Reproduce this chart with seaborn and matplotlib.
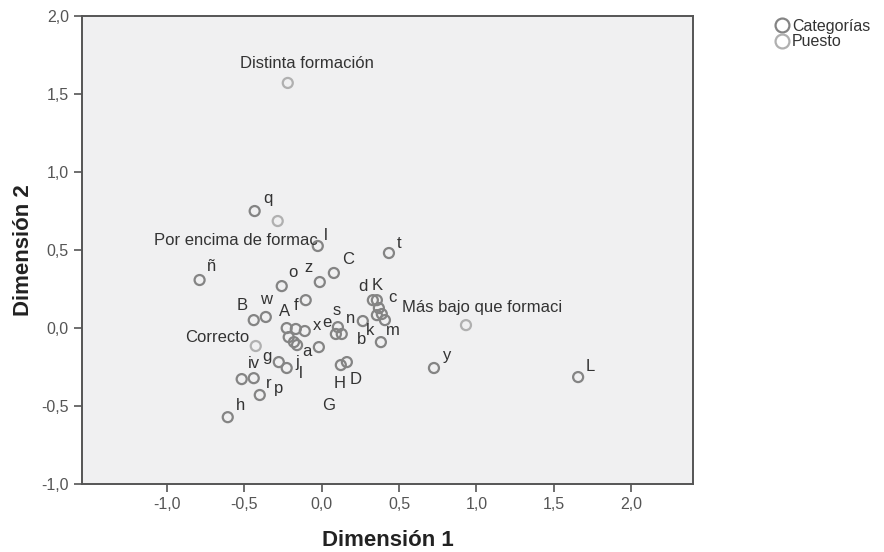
"""Plot of MCA category points (Dimensión 1 vs Dimensión 2)."""
import matplotlib
matplotlib.use("Agg")
import matplotlib.pyplot as plt
from matplotlib.lines import Line2D
from matplotlib.ticker import FuncFormatter, MultipleLocator
import pandas as pd
import seaborn as sns

# Categorías: dimension 1, dimension 2, label
cat_dim1 = [-0.434, -0.026, 0.434, -0.790, -0.259, -0.013, 0.078, -0.104,
            -0.440, -0.362, -0.227, -0.168, -0.110, -0.214, -0.180, -0.160,
            -0.019, 0.104, 0.091, 0.129, 0.265, 0.330, 0.356, 0.369,
            0.356, 0.388, 0.408, 0.382, -0.278, -0.227, -0.518, -0.440,
            -0.401, -0.608, 0.123, 0.162, 0.725, 1.657]
cat_dim2 = [0.750, 0.526, 0.481, 0.308, 0.269, 0.295, 0.353, 0.179,
            0.051, 0.071, 0.000, -0.006, -0.019, -0.058, -0.090, -0.109,
            -0.122, 0.006, -0.038, -0.038, 0.045, 0.179, 0.179, 0.128,
            0.083, 0.090, 0.051, -0.090, -0.218, -0.256, -0.327, -0.321,
            -0.429, -0.571, -0.237, -0.218, -0.256, -0.314]
cat_labels = ["q", "l", "t", "ñ", "o", "z", "C", "f",
              "B", "w", "A", "", "x", "", "", "j",
              "a", "s", "e", "G", "n", "d", "K", "c",
              "k", "", "m", "b", "g", "l", "iv", "r",
              "p", "h", "H", "D", "y", "L"]
# label offsets in pixels (right, up)
cat_dx = [13, 8, 10, 12, 11, -11, 14, -10,
          -12, 0, -2, 0, 12, 0, 0, 0,
          -12, -1, -9, -13, -12, -10, 0, 14,
          -7, 0, 8, -19, -12, 14, 12, 15,
          19, 13, -1, 9, 13, 12]
cat_dy = [13, 10, 10, 14, 14, 15, 13, -5,
          15, 17, 17, 0, 6, 0, 0, -17,
          -4, 17, 12, -71, 3, 14, 15, 11,
          -15, 0, -10, 3, 6, -5, 16, -5,
          7, 12, -18, -17, 13, 11]

# Puesto
pue_dim1 = [-0.220, -0.285, -0.427, 0.932]
pue_dim2 = [1.571, 0.686, -0.115, 0.019]
pue_labels = ["Distinta formación", "Por encima de formac", "Correcto",
              "Más bajo que formaci"]
pue_dx = [19, 40, -6, -64]
pue_dy = [19, -19, 9, 18]
pue_ha = ["center", "right", "right", "left"]

df = pd.concat([
    pd.DataFrame({"dim1": cat_dim1, "dim2": cat_dim2, "grupo": "Categorías"}),
    pd.DataFrame({"dim1": pue_dim1, "dim2": pue_dim2, "grupo": "Puesto"}),
], ignore_index=True)

colors = {"Categorías": "#848484", "Puesto": "#b0b0b0"}
text_color = "#333333"

sns.set_style("white")
plt.rcParams["font.family"] = ["Liberation Sans", "DejaVu Sans"]

fig = plt.figure(figsize=(8.84, 5.52), dpi=100)
ax = fig.add_axes([0.0928, 0.123, 0.6912, 0.848])
ax.set_facecolor("#f0f0f1")

for grupo, sub in df.groupby("grupo"):
    sns.scatterplot(data=sub, x="dim1", y="dim2", ax=ax, s=52,
                    legend=False, zorder=3)
    coll = ax.collections[-1]
    coll.set_facecolor("none")
    coll.set_edgecolor(colors[grupo])
    coll.set_linewidth(1.6)

for x, y, lab, dx, dy in zip(cat_dim1, cat_dim2, cat_labels, cat_dx, cat_dy):
    if lab:
        ax.annotate(lab, (x, y), xytext=(dx, dy), textcoords="offset pixels",
                    ha="center", va="center", fontsize=12, color=text_color)

for x, y, lab, dx, dy, ha in zip(pue_dim1, pue_dim2, pue_labels, pue_dx, pue_dy, pue_ha):
    ax.annotate(lab, (x, y), xytext=(dx, dy), textcoords="offset pixels",
                ha=ha, va="center", fontsize=12, color=text_color)

ax.set_xlim(-1.55, 2.40)
ax.set_ylim(-1.0, 2.0)
ax.yaxis.set_major_locator(MultipleLocator(0.5))
ax.set_xticks([-1.0, -0.5, 0.0, 0.5, 1.0, 1.5, 2.0])
comma = FuncFormatter(lambda v, p: f"{v:.1f}".replace(".", ","))
ax.xaxis.set_major_formatter(comma)
ax.yaxis.set_major_formatter(comma)
ax.tick_params(axis="both", direction="out", length=6, width=1.2,
               color="#555555", labelcolor="#555555", labelsize=11.5,
               bottom=True, left=True)
for side in ax.spines.values():
    side.set_color("#555555")
    side.set_linewidth(1.4)

ax.set_xlabel("Dimensión 1", fontsize=16, fontweight="bold", color="#222222",
              labelpad=13)
ax.set_ylabel("Dimensión 2", fontsize=16, fontweight="bold", color="#222222",
              labelpad=5)

handles = [Line2D([], [], marker="o", linestyle="", markersize=10,
                  markerfacecolor="none", markeredgecolor=colors[g],
                  markeredgewidth=1.6, label=g) for g in ["Categorías", "Puesto"]]
fig.legend(handles=handles, loc="upper left", bbox_to_anchor=(0.868, 0.978),
           frameon=False, fontsize=11.5, handletextpad=0.05,
           borderaxespad=0, labelspacing=0.05, handlelength=1.1,
           labelcolor=text_color)

fig.savefig("out.png", dpi=100)
